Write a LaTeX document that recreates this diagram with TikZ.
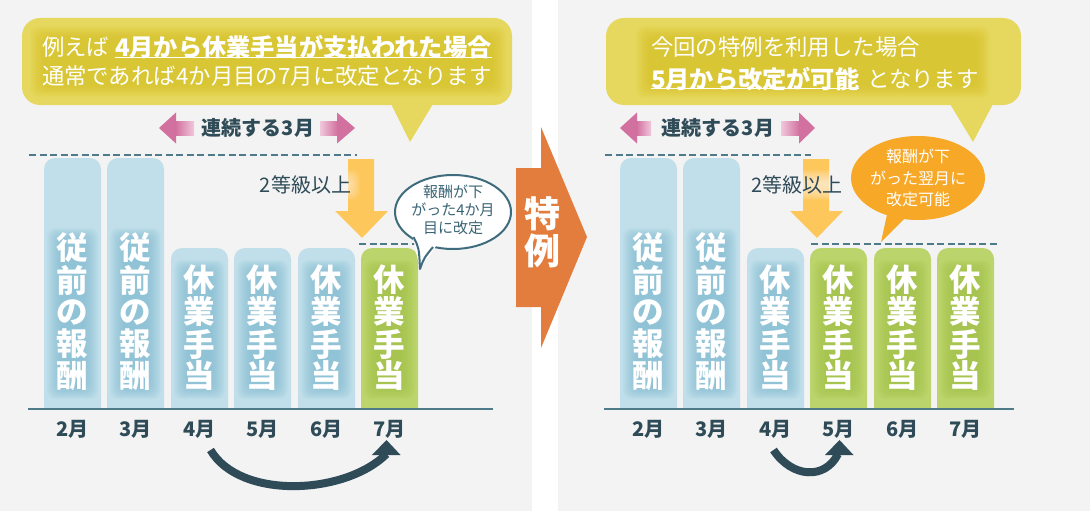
\documentclass[tikz,border=0pt]{standalone}
\usepackage{fontspec}
\setmainfont{Noto Sans CJK JP}
\usetikzlibrary{calc}
\definecolor{bggrey}{HTML}{F3F3F3}
\definecolor{cyel}{HTML}{E6D85E}
\definecolor{cyelglow}{HTML}{D6BF1C}
\definecolor{pinkc}{HTML}{D2709F}
\definecolor{pinklight}{HTML}{F0C8DC}
\definecolor{darkc}{HTML}{2F4B57}
\definecolor{dashc}{HTML}{4E7A8A}
\definecolor{arrowy}{HTML}{FDC75B}
\definecolor{bblue}{HTML}{C1DFEA}
\definecolor{bglow}{HTML}{7FBBD1}
\definecolor{bgreen}{HTML}{BCD46C}
\definecolor{gglow}{HTML}{A0C146}
\definecolor{bubstroke}{HTML}{3F6C7D}
\definecolor{bubtext}{HTML}{3A6474}
\definecolor{orng}{HTML}{E27D3E}
\definecolor{obub}{HTML}{F7A827}
\newcommand\softglow[6]{%
  \foreach \i in {0,...,11}{\fill[#1,opacity=#6,rounded corners=8pt]
    ({#2+\i*1.25},{#3+\i*1.1}) rectangle ({#4-\i*1.25},{#5-\i*1.1});}}
\newcommand\colbar[4]{%
  \fill[#3] (#1,408) [rounded corners=11pt] -- (#1,#2) -- ({#1+57},#2) [sharp corners] -- ({#1+57},408) -- cycle;
  \softglow{#4}{#1+3}{#2+(#2<200?70:12)}{#1+54}{399}{0.09}}
\begin{document}
\begin{tikzpicture}[x=1pt,y=-1pt,
  every node/.style={inner sep=0pt,outer sep=0pt},
  bartxt/.style={text=white,font=\fontsize{31.5}{31.5}\selectfont\bfseries},
  month/.style={text=darkc,font=\fontsize{20}{20}\selectfont\bfseries},
  calltxt/.style={text=white,font=\fontsize{22.4}{22.4}\selectfont,anchor=west},
  callbold/.style={text=white,font=\fontsize{24.2}{24.2}\selectfont\bfseries,anchor=west},
  dashln/.style={dashc,line width=2pt,dash pattern=on 7pt off 3.5pt},
  baseln/.style={dashc,line width=2.5pt},
  curvarr/.style={darkc,line width=8pt},
  headfill/.style={fill=darkc},
  pinkhead/.style={fill=pinkc},
  yelarr/.style={fill=arrowy},
  labtxt/.style={text=darkc,font=\fontsize{20}{20}\selectfont\bfseries},
  lvltxt/.style={text=darkc,font=\fontsize{20}{20}\selectfont}]
\useasboundingbox (0,0) rectangle (1090,511);
\fill[white] (0,0) rectangle (1090,511);
\fill[bggrey] (0,0) rectangle (532,511);
\fill[bggrey] (558,0) rectangle (1090,511);

% ---------- callouts ----------
\fill[cyel,rounded corners=18pt] (22,18) rectangle (512,105);
\fill[cyel] (391,104) -- (433,104) -- (410,142) -- cycle;
\softglow{cyelglow}{30}{26}{506}{97}{0.07}
\node[calltxt] (t1a) at (42,47) {例えば};
\node[callbold] (t1b) at (115,47) {4月から休業手当が支払われた場合};
\coordinate (u1) at (0,57.5);
\draw[white,line width=1.4pt] (t1b.west |- u1) -- (t1b.east |- u1);
\node[calltxt] (t2) at (42,76) {通常であれば4か月目の7月に改定となります};

\fill[cyel,rounded corners=18pt] (606,18) rectangle (1021,105);
\fill[cyel] (950,104) -- (993,104) -- (973,142) -- cycle;
\softglow{cyelglow}{636}{26}{990}{98}{0.07}
\node[calltxt] (r1) at (651,47) {今回の特例を利用した場合};
\node[callbold] (r2a) at (651,79) {5月から改定が可能};
\node[calltxt] (r2b) at ([xshift=8pt]r2a.east) {となります};
\coordinate (u2) at (0,88.5);
\draw[white,line width=1.4pt] (r2a.west |- u2) -- (r2a.east |- u2);

% ---------- pink arrows ----------
\fill[pinkhead] (159,128) -- (176,112.5) -- (176,143.5) -- cycle;
\shade[left color=pinkc,right color=pinklight] (175.5,121) rectangle (194,135);
\shade[left color=pinklight,right color=pinkc] (320,121) rectangle (337.5,135);
\fill[pinkhead] (337,112.5) -- (355,128) -- (337,143.5) -- cycle;
\softglow{white}{196}{116}{320}{140}{0.06}
\node[labtxt] (c3l) at (258,128) {連続する3月};

\fill[pinkhead] (620,128) -- (637,112.5) -- (637,143.5) -- cycle;
\shade[left color=pinkc,right color=pinklight] (636.5,121) rectangle (651,135);
\shade[left color=pinklight,right color=pinkc] (781,121) rectangle (799.5,135);
\fill[pinkhead] (799,112.5) -- (815,128) -- (799,143.5) -- cycle;
\softglow{white}{656}{116}{780}{140}{0.06}
\node[labtxt] (c3r) at (718,128) {連続する3月};

% ---------- dashed lines ----------
\draw[dashln] (29,155) -- (357,155);
\draw[dashln] (359,244) -- (420,244);
\draw[dashln] (605,155) -- (811,155);
\draw[dashln] (811,244) -- (1000,244);

% ---------- yellow arrows ----------
\fill[yelarr] (348,159) -- (374,159) -- (374,211) -- (388,211) -- (362,238) -- (335,211) -- (348,211) -- cycle;
\fill[yelarr] (803,159) -- (829,159) -- (829,211) -- (843,211) -- (817,238) -- (790,211) -- (803,211) -- cycle;
\softglow{white}{252}{170}{360}{200}{0.07}
\node[lvltxt] (lvl) at (305.5,185) {2等級以上};
\softglow{white}{743}{170}{851}{200}{0.07}
\node[lvltxt] (lvr) at (797,185) {2等級以上};

% ---------- bars ----------
\colbar{44}{158}{bblue}{bglow}
\colbar{107}{158}{bblue}{bglow}
\colbar{171}{248}{bblue}{bglow}
\colbar{234}{248}{bblue}{bglow}
\colbar{298}{248}{bblue}{bglow}
\colbar{361}{248}{bgreen}{gglow}
\colbar{620}{158}{bblue}{bglow}
\colbar{683}{158}{bblue}{bglow}
\colbar{747}{248}{bblue}{bglow}
\colbar{810}{248}{bgreen}{gglow}
\colbar{874}{248}{bgreen}{gglow}
\colbar{937}{248}{bgreen}{gglow}

\foreach \bx/\nm in {44/a,107/b,620/g,683/h}{
  \foreach \ch/\cy [count=\k] in {従/248,前/280,の/312,報/344,酬/376}{
    \node[bartxt] (bar\nm\k) at ({\bx+28.5},\cy) {\ch};}}
\foreach \bx/\nm in {171/c,234/d,298/e,361/f,747/i,810/j,874/k,937/l}{
  \foreach \ch/\cy [count=\k] in {休/280,業/312,手/344,当/376}{
    \node[bartxt] (bar\nm\k) at ({\bx+28.5},\cy) {\ch};}}

% ---------- baselines & months ----------
\draw[baseln] (28,409) -- (493,409);
\draw[baseln] (604,409) -- (1014,409);
\foreach \bx/\m in {44/2,107/3,171/4,234/5,298/6,361/7}{
  \node[month] (lm\m) at ({\bx+28.5},429) {\m 月};}
\foreach \bx/\m in {620/2,683/3,747/4,810/5,874/6,937/7}{
  \node[month] (rm\m) at ({\bx+28.5},429) {\m 月};}

% ---------- curved arrows ----------
\coordinate (la1) at ([xshift=11pt,yshift=-21pt]lm4.center);
\coordinate (la2) at ([xshift=-3pt,yshift=-25pt]lm7.center);
\draw[curvarr] (la1) .. controls (240,500) and (345,495) .. (la2);
\fill[headfill] (372,455) -- (400.5,455) -- (386.5,440) -- cycle;
\coordinate (ra1) at ([xshift=-2pt,yshift=-21pt]rm4.center);
\coordinate (ra2) at ([xshift=-0.5pt,yshift=-25pt]rm5.center);
\draw[curvarr] (ra1) .. controls (792,478) and (825,480) .. (ra2);
\fill[headfill] (825,455) -- (853.5,455) -- (839.5,440) -- cycle;

% ---------- speech bubbles ----------
\fill[white] (453,212) ellipse [x radius=58, y radius=37];
\draw[bubstroke,line width=2pt] (453,212) ellipse [x radius=58, y radius=37];
\fill[white] (412,234) -- (420,269) -- (436,246) -- cycle;
\draw[bubstroke,line width=2pt,line join=round] (413.5,237) .. controls (419,248) .. (420,269) .. controls (424,258) .. (433,247);
\node[text=bubtext,font=\fontsize{15}{18}\selectfont,align=center] (bubl) at (453,210) {報酬が下\\がった4か月\\目に改定};

\fill[obub] (918,178) ellipse [x radius=67, y radius=42];
\fill[obub] (888,210) -- (881,242) -- (907,216) -- cycle;
\node[text=white,font=\fontsize{16}{21.5}\selectfont,align=center] (bubr) at (918,178) {報酬が下\\がった翌月に\\改定可能};

% ---------- orange arrow ----------
\fill[orng] (516,168) -- (541,168) -- (541,127) -- (587,237) -- (541,348) -- (541,307) -- (516,307) -- cycle;
\node[text=white,font=\fontsize{36}{37}\selectfont\bfseries,align=center] (tokurei) at (542.5,232) {特\\例};
\end{tikzpicture}
\end{document}
